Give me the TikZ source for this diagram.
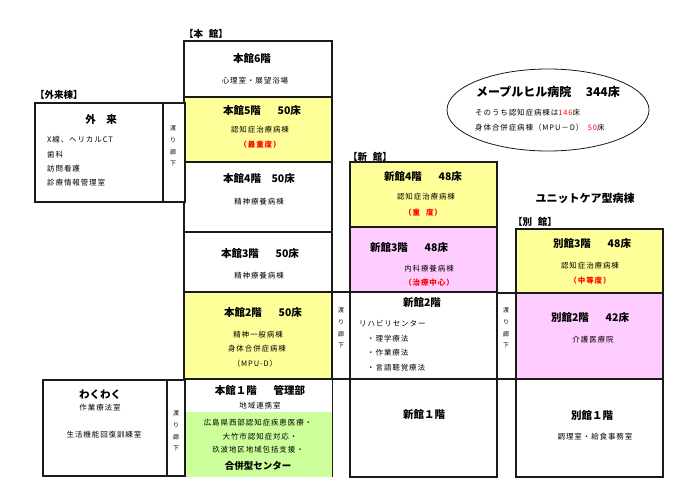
\documentclass[tikz,border=0pt]{standalone}
\usepackage{fontspec}
\setmainfont{Noto Sans CJK JP}
\newfontfamily\roomfont{Noto Sans CJK JP}[LetterSpace=12]
\usetikzlibrary{shapes.geometric}
\definecolor{wardyellow}{HTML}{FFFF99}
\definecolor{wardpink}{HTML}{FFCCFF}
\definecolor{wardgreen}{HTML}{CCFF99}
\definecolor{wallcolor}{HTML}{1A1A1A}
\newcommand{\bedgap}{\hspace{1.6em}}

\begin{document}
\begin{tikzpicture}[x=1pt, y=-1pt]
  \tikzset{room/.style={draw=wallcolor, line width=1.2pt, anchor=north west, inner sep=0pt, outer sep=0pt}}
  \tikzset{head/.style={font=\fontsize{10.5}{12}\selectfont\bfseries, inner sep=0pt}}
  \tikzset{note/.style={font=\roomfont\fontsize{7.5}{9}\selectfont, inner sep=0pt}}
  \tikzset{alert/.style={font=\roomfont\fontsize{7.5}{9}\selectfont\bfseries, text=red, inner sep=0pt}}
  \tikzset{tag/.style={font=\fontsize{9.5}{11}\selectfont\bfseries, anchor=west, inner sep=0pt}}
  \tikzset{walk/.style={font=\fontsize{6}{11.7}\selectfont, align=center, inner sep=0pt}}
  \useasboundingbox (0,0) rectangle (700,495);
  \node[tag] (maintag) at (184,34) {【本\hspace{0.6em}館】};
  \node[tag] (outtag) at (35,95) {【外来棟】};
  \node[tag] (newtag) at (348,157) {【新\hspace{0.6em}館】};
  \node[tag] (annextag) at (513,222) {【別\hspace{0.6em}館】};
  \node[room, fill=white, minimum width=148, minimum height=56] (h6) at (184,41) {};
  \node[room, fill=wardyellow, minimum width=148, minimum height=65] (h5) at (184,97) {};
  \node[room, fill=white, minimum width=148, minimum height=70] (h4) at (184,162) {};
  \node[room, fill=white, minimum width=148, minimum height=60] (h3) at (184,232) {};
  \node[room, fill=wardyellow, minimum width=148, minimum height=87] (h2) at (184,292) {};
  \node[anchor=north west, inner sep=0pt, minimum width=148, minimum height=98] (h1) at (184,379) {};
  \node[anchor=north west, inner sep=0pt, fill=wardgreen, minimum width=147, minimum height=65] (h1g) at (185,412) {};
  \draw[wallcolor, line width=1.2pt] (h1.north east) -- (h1.south east);
  \node[room, fill=white, minimum width=128, minimum height=99] (gairai) at (35,103) {};
  \node[room, fill=white, minimum width=22, minimum height=99] (k1) at (163,103) {};
  \node[room, fill=white, minimum width=124, minimum height=96] (waku) at (43,380) {};
  \node[room, fill=white, minimum width=18, minimum height=96] (k2) at (167,380) {};
  \node[room, fill=wardyellow, minimum width=147, minimum height=65] (s4) at (350,162) {};
  \node[room, fill=wardpink, minimum width=147, minimum height=65] (s3) at (350,227) {};
  \node[room, fill=white, minimum width=147, minimum height=87] (s2) at (350,292) {};
  \node[room, fill=white, minimum width=147, minimum height=98] (s1) at (350,379) {};
  \node[room, fill=white, minimum width=18, minimum height=87] (k3) at (332,292) {};
  \node[room, fill=wardyellow, minimum width=147, minimum height=64] (b3) at (516,229) {};
  \node[room, fill=wardpink, minimum width=147, minimum height=86] (b2) at (516,293) {};
  \node[room, fill=white, minimum width=147, minimum height=98] (b1) at (516,379) {};
  \node[room, fill=white, minimum width=19, minimum height=86] (k4) at (497,293) {};
  \node[draw=wallcolor, ellipse, line width=0.8pt, minimum width=202, minimum height=82, inner sep=0pt] (total) at (548,110) {};
  \node[head, font=\fontsize{12}{14}\selectfont\bfseries] (t1) at (548,92) {メープルヒル病院\hspace{1.2em}344床};
  \node[note, anchor=west] (t2) at (475,113) {そのうち認知症病棟は\textcolor{red}{146}床};
  \node[note, anchor=west] (t3) at (475,128) {身体合併症病棟（MPU－D）\hspace{0.6em}\textcolor{red}{50}床};
  \node[head, font=\fontsize{11}{13}\selectfont\bfseries] (unit) at (585,198) {ユニットケア型病棟};
  \node[head] (h6a) at (252,59) {本館6階};
  \node[note] (h6b) at (255,81) {心理室・展望浴場};
  \node[head] (h5a) at (262,111) {本館5階\bedgap 50床};
  \node[note] (h5b) at (260,130) {認知症治療病棟};
  \node[alert] (h5c) at (260,145) {（最重度）};
  \node[head] (h4a) at (259,179) {本館4階\hspace{1em}50床};
  \node[note] (h4b) at (259,202) {精神療養病棟};
  \node[head] (h3a) at (260,254) {本館3階\bedgap 50床};
  \node[note] (h3b) at (259,276) {精神療養病棟};
  \node[head] (h2a) at (263,313) {本館2階\bedgap 50床};
  \node[note] (h2b) at (258,335) {精神一般病棟};
  \node[note] (h2c) at (257,349) {身体合併症病棟};
  \node[note] (h2d) at (255,364) {（MPU-D）};
  \node[head] (h1a) at (260,390) {本館１階\bedgap 管理部};
  \node[note] (h1b) at (260,406) {地域連携室};
  \node[note] (h1c) at (258,423) {広島県西部認知症疾患医療・};
  \node[note] (h1d) at (260,437) {大竹市認知症対応・};
  \node[note] (h1e) at (258,450) {玖波地区地域包括支援・};
  \node[head, font=\fontsize{9.5}{11}\selectfont\bfseries] (h1f) at (258,466) {合併型センター};
  \node[head] (g1) at (101,119) {外\hspace{1em}来};
  \node[note, anchor=west] (g2) at (47,140) {X線、ヘリカルCT};
  \node[note, anchor=west] (g3) at (47,155) {歯科};
  \node[note, anchor=west] (g4) at (47,169) {訪問看護};
  \node[note, anchor=west] (g5) at (47,183) {診療情報管理室};
  \node[head] (w1) at (100,395) {わくわく};
  \node[note] (w2) at (100,408) {作業療法室};
  \node[note] (w3) at (104,435) {生活機能回復訓練室};
  \node[walk] (k1t) at (173,146) {渡\\り\\廊\\下};
  \node[walk] (k2t) at (176,431) {渡\\り\\廊\\下};
  \node[walk] (k3t) at (341,328) {渡\\り\\廊\\下};
  \node[walk] (k4t) at (506,328) {渡\\り\\廊\\下};
  \node[head] (s4a) at (423,177) {新館4階\bedgap 48床};
  \node[note] (s4b) at (426,197) {認知症治療病棟};
  \node[alert] (s4c) at (423,213) {（重\hspace{0.8em}度）};
  \node[head] (s3a) at (409,248) {新館3階\bedgap 48床};
  \node[note] (s3b) at (429,269) {内科療養病棟};
  \node[alert] (s3c) at (429,283) {（治療中心）};
  \node[head] (s2a) at (422,303) {新館2階};
  \node[note, anchor=west] (s2b) at (359,324) {リハビリセンター};
  \node[note, anchor=west] (s2c) at (367,339) {・理学療法};
  \node[note, anchor=west] (s2d) at (367,353) {・作業療法};
  \node[note, anchor=west] (s2e) at (367,368) {・言語聴覚療法};
  \node[head] (s1a) at (424,415) {新館１階};
  \node[head] (b3a) at (592,244) {別館3階\bedgap 48床};
  \node[note] (b3b) at (590,266) {認知症治療病棟};
  \node[alert] (b3c) at (590,281) {（中等度）};
  \node[head] (b2a) at (590,318) {別館2階\bedgap 42床};
  \node[note] (b2b) at (593,340) {介護医療院};
  \node[head] (b1a) at (592,416) {別館１階};
  \node[note] (b1b) at (595,437) {調理室・給食事務室};
\end{tikzpicture}
\end{document}
